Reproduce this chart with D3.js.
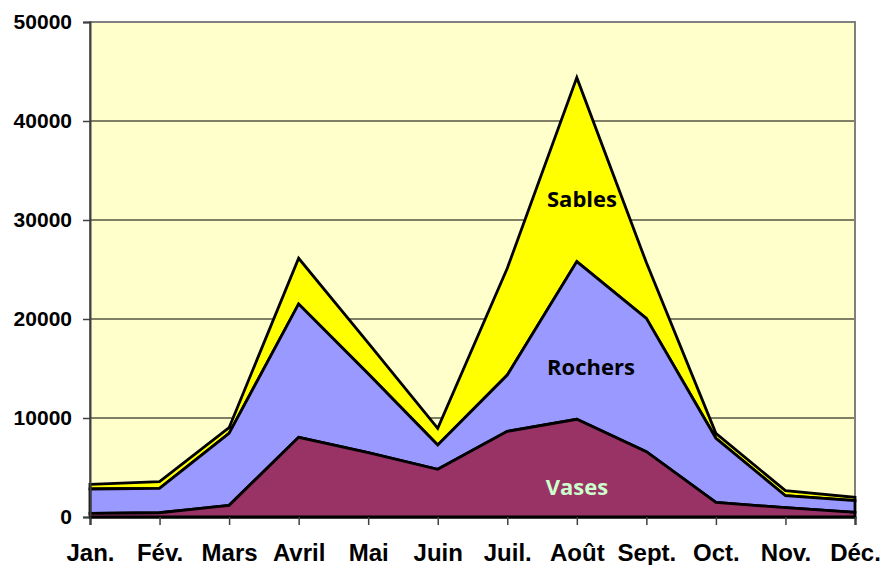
<!DOCTYPE html>
<html><head><meta charset="utf-8">
<script src="https://cdn.jsdelivr.net/npm/d3@7"></script>
<style>body{margin:0;background:#fff}svg{display:block}</style>
</head><body>
<svg id="c" width="883" height="565"></svg>
<script>
const months = ["Jan.","Fév.","Mars","Avril","Mai","Juin","Juil.","Août","Sept.","Oct.","Nov.","Déc."];
const vases   = [370, 430, 1180, 8050, 6500, 4820, 8650, 9870, 6600, 1480, 940, 470];
const rochers = [2460, 2470, 7270, 13470, 7980, 2450, 5690, 15930, 13470, 6470, 1210, 1180];
const sables  = [470, 670, 570, 4610, 3110, 1690, 10780, 18580, 5630, 500, 510, 340];
const seriesNames = ["Vases","Rochers","Sables"];
const seriesColors = ["#993366","#9999FF","#FFFF00"];
const labelColors = ["#CCFFCC","#000000","#000000"];
const yTicks = [0,10000,20000,30000,40000,50000];

const svg = d3.select("#c");
const L=90,R=855,T=22,B=517;
const x = d3.scalePoint().domain(months).range([L,R]).padding(0);
const y = d3.scaleLinear().domain([0,50000]).range([B,T]);

const rows = months.map((m,i)=>({m, Vases:vases[i], Rochers:rochers[i], Sables:sables[i]}));
const stack = d3.stack().keys(seriesNames)(rows);

svg.append("rect").attr("x",L).attr("y",T).attr("width",R-L).attr("height",B-T).attr("fill","#FFFFCC");
svg.append("g").selectAll("line").data(yTicks.filter(v=>v>0&&v<50000)).join("line")
  .attr("x1",L).attr("x2",R).attr("y1",d=>y(d)).attr("y2",d=>y(d)).attr("stroke","#000").attr("stroke-width",1);
svg.append("rect").attr("x",L).attr("y",T).attr("width",R-L).attr("height",B-T).attr("fill","none").attr("stroke","#808080").attr("stroke-width",2);

const area = d3.area().x((d,i)=>x(months[i])).y0(d=>y(d[0])).y1(d=>y(d[1]));
svg.append("g").selectAll("path").data(stack.slice().reverse()).join("path")
  .attr("d",area).attr("fill",d=>seriesColors[seriesNames.indexOf(d.key)])
  .attr("stroke","#000").attr("stroke-width",2.8).attr("stroke-linejoin","miter");

const yAxis = svg.append("g").attr("transform",`translate(${L},0)`)
  .call(d3.axisLeft(y).tickValues(yTicks).tickFormat(d3.format("d")).tickSize(7).tickPadding(11));
yAxis.select(".domain").attr("stroke","#404040").attr("stroke-width",2);
yAxis.selectAll(".tick line").attr("stroke","#404040").attr("stroke-width",1.5);
yAxis.selectAll("text").attr("font-family","Liberation Sans, Arial, sans-serif").attr("font-weight","bold").attr("font-size",21).attr("fill","#000");

const xAxis = svg.append("g").attr("transform",`translate(0,${B})`)
  .call(d3.axisBottom(x).tickSize(8).tickPadding(19));
xAxis.select(".domain").attr("stroke","#000").attr("stroke-width",2);
xAxis.selectAll(".tick line").attr("stroke","#404040").attr("stroke-width",1.5);
xAxis.selectAll("text").attr("font-family","Liberation Sans, Arial, sans-serif").attr("font-weight","bold").attr("font-size",24).attr("fill","#000");

const labelPos = [[577,495],[591,375],[582,207]];
svg.append("g").selectAll("text").data(seriesNames).join("text")
  .attr("x",(d,i)=>labelPos[i][0]).attr("y",(d,i)=>labelPos[i][1])
  .attr("text-anchor","middle").attr("font-family","Open Sans, sans-serif").attr("font-weight","bold")
  .attr("font-size",22).attr("fill",(d,i)=>labelColors[i]).text(d=>d);
</script>
</body></html>
